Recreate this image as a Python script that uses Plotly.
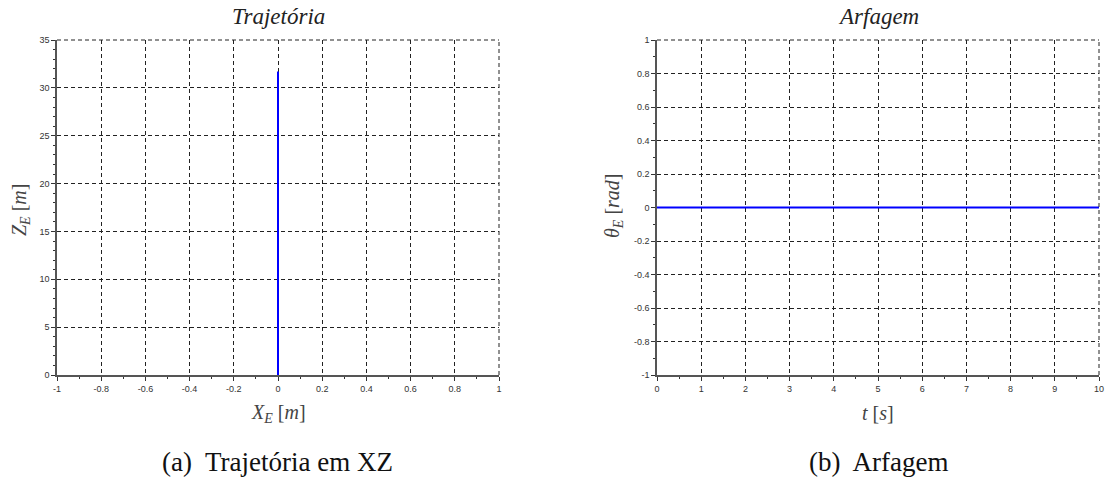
import plotly.graph_objects as go

# Data
traj_x = [0, 0]
traj_z = [0, 31.7]
t_vals = [0, 10]
theta_vals = [0, 0]

xa_ticks = [-1, -0.8, -0.6, -0.4, -0.2, 0, 0.2, 0.4, 0.6, 0.8, 1]
xa_labels = ["-1", "-0.8", "-0.6", "-0.4", "-0.2", "0", "0.2", "0.4", "0.6", "0.8", "1"]
ya_ticks = [0, 5, 10, 15, 20, 25, 30, 35]
xb_ticks = list(range(0, 11))
yb_ticks = [-1, -0.8, -0.6, -0.4, -0.2, 0, 0.2, 0.4, 0.6, 0.8, 1]
yb_labels = ["-1", "-0.8", "-0.6", "-0.4", "-0.2", "0", "0.2", "0.4", "0.6", "0.8", "1"]

W, H = 1105, 481
L1, R1 = 57, 499
L2, R2 = 657, 1099
TOP, BOT = 40, 375

fig = go.Figure()
fig.add_trace(go.Scatter(x=traj_x, y=traj_z, mode="lines",
                         line=dict(color="#0000ff", width=2), xaxis="x", yaxis="y", showlegend=False))
fig.add_trace(go.Scatter(x=t_vals, y=theta_vals, mode="lines",
                         line=dict(color="#0000ff", width=2), xaxis="x2", yaxis="y2", showlegend=False))

tickfont = dict(family="Liberation Sans, Arial, sans-serif", size=9, color="#333")
common = dict(showgrid=True, gridcolor="#222", griddash="4px,3px", gridwidth=1,
              zeroline=False, showline=True, linecolor="#555", linewidth=1.5,
              ticks="outside", ticklen=4, tickcolor="#333", tickfont=tickfont,
              mirror=False, automargin=False)

def dom(a, b, total):
    return [a / total, b / total]

ydom = [(H - BOT) / H, (H - TOP) / H]

fig.update_layout(
    width=W, height=H, margin=dict(l=0, r=0, t=0, b=0),
    plot_bgcolor="white", paper_bgcolor="white",
    xaxis=dict(domain=dom(L1, R1, W), range=[-1, 1], tickvals=xa_ticks, ticktext=xa_labels,
               anchor="y", minor=dict(ticks="outside", ticklen=2, tickcolor="#333", dtick=0.1, showgrid=False), **common),
    yaxis=dict(domain=ydom, range=[0, 35], tickvals=ya_ticks, anchor="x",
               minor=dict(ticks="outside", ticklen=2, tickcolor="#333", dtick=1, showgrid=False), **common),
    xaxis2=dict(domain=dom(L2, R2, W), range=[0, 10], tickvals=xb_ticks, anchor="y2",
                minor=dict(ticks="outside", ticklen=2, tickcolor="#333", dtick=0.5, showgrid=False), **common),
    yaxis2=dict(domain=ydom, range=[-1, 1], tickvals=yb_ticks, ticktext=yb_labels, anchor="x2",
                minor=dict(ticks="outside", ticklen=2, tickcolor="#333", dtick=0.1, showgrid=False), **common),
)

# dashed frame on top and right edges
for xr, yr in (("x domain", "y domain"), ("x2 domain", "y2 domain")):
    fig.add_shape(type="line", xref=xr, yref=yr, x0=0, x1=1, y0=1, y1=1,
                  line=dict(color="#222", width=1, dash="4px,3px"))
    fig.add_shape(type="line", xref=xr, yref=yr, x0=1, x1=1, y0=0, y1=1,
                  line=dict(color="#222", width=1, dash="4px,3px"))

serif = "Liberation Serif, DejaVu Serif, serif"

def ann(text, x, y, size, angle=0, color="#111"):
    fig.add_annotation(text=text, x=x / W, y=1 - y / H, xref="paper", yref="paper",
                       showarrow=False, font=dict(family=serif, size=size, color=color),
                       textangle=angle, xanchor="center", yanchor="middle")

cx1 = (L1 + R1) / 2
cx2 = (L2 + R2) / 2
ann("<i>Trajetória</i>", cx1, 16, 23, color="#222")
ann("<i>Arfagem</i>", cx2, 16, 23, color="#222")
ann("<i>X</i><sub><i>E</i></sub> [<i>m</i>]", cx1, 413, 20, color="#444")
ann("<i>t</i> [<i>s</i>]", cx2, 413, 20, color="#444")
ann("<i>Z</i><sub><i>E</i></sub> [<i>m</i>]", 20, 210, 20, -90, color="#444")
ann("<i>θ</i><sub><i>E</i></sub> [<i>rad</i>]", 613, 206, 20, -90, color="#444")
ann("(a)  Trajetória em XZ", cx1 - 1, 462, 27)
ann("(b)  Arfagem", cx2, 462, 27)

fig.write_html("out.html", config={"displayModeBar": False},
               post_script="document.body.style.margin='0';")
